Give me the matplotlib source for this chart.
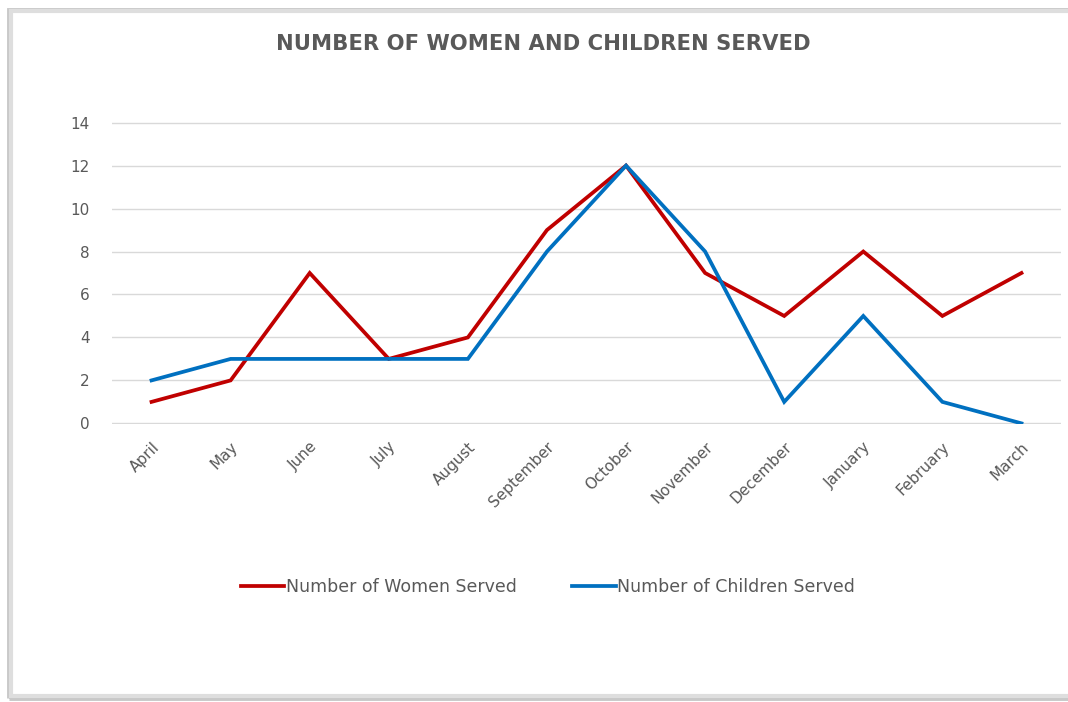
import matplotlib
matplotlib.use("Agg")
import matplotlib.pyplot as plt
from matplotlib.patches import Rectangle

months = ["April", "May", "June", "July", "August", "September", "October",
          "November", "December", "January", "February", "March"]
women = [1, 2, 7, 3, 4, 9, 12, 7, 5, 8, 5, 7]
children = [2, 3, 3, 3, 3, 8, 12, 8, 1, 5, 1, 0]
yticks = [0, 2, 4, 6, 8, 10, 12, 14]

RED = "#C00000"
BLUE = "#0070C0"
TEXT = "#595959"
W, H = 1068, 702

plt.rcParams["font.family"] = ["DejaVu Sans"]

fig = plt.figure(figsize=(W / 100, H / 100), dpi=100)
fig.patch.set_facecolor("white")

# grey frame with a slight shadow along left and bottom
fig.patches.append(Rectangle((9 / W, 4 / H), 1.2, (H - 14) / H, transform=fig.transFigure,
                             facecolor="none", edgecolor="#c8c8c8", linewidth=3.5, zorder=-2))
fig.patches.append(Rectangle((11 / W, 6 / H), 1.2, (H - 17) / H, transform=fig.transFigure,
                             facecolor="white", edgecolor="#dedede", linewidth=3, zorder=-1))

ax = fig.add_axes([112 / W, (H - 424) / H, (1061 - 112) / W, (424 - 122) / H])
ax.patch.set_alpha(0)
x = range(len(months))
ax.plot(x, women, color=RED, lw=2.7, solid_joinstyle="miter", label="Number of Women Served", zorder=3)
ax.plot(x, children, color=BLUE, lw=2.7, solid_joinstyle="miter", label="Number of Children Served", zorder=3)

ax.set_xlim(-0.5, len(months) - 0.5)
ax.set_ylim(-0.03, 14.03)
ax.set_yticks(yticks)
ax.set_yticklabels([str(v) for v in yticks], color=TEXT, fontsize=11)
ax.set_xticks(list(x))
ax.set_xticklabels(months, rotation=45, ha="right", rotation_mode="anchor", color=TEXT, fontsize=11)
ax.tick_params(axis="both", length=0)
ax.tick_params(axis="y", pad=16)
ax.tick_params(axis="x", pad=11)
ax.grid(axis="y", color="#d9d9d9", lw=1)
ax.set_axisbelow(True)
for s in ax.spines.values():
    s.set_visible(False)

fig.text(543 / W, 1 - 44 / H, "NUMBER OF WOMEN AND CHILDREN SERVED", ha="center", va="center",
         fontsize=15.2, fontweight="bold", color=TEXT)

leg = fig.legend(loc="center", bbox_to_anchor=(548 / W, 1 - 587 / H), ncol=2, frameon=False,
                 fontsize=12.5, handlelength=2.5, handletextpad=0.1, columnspacing=3.2)
for t in leg.get_texts():
    t.set_color(TEXT)

fig.savefig("out.png", dpi=100)
